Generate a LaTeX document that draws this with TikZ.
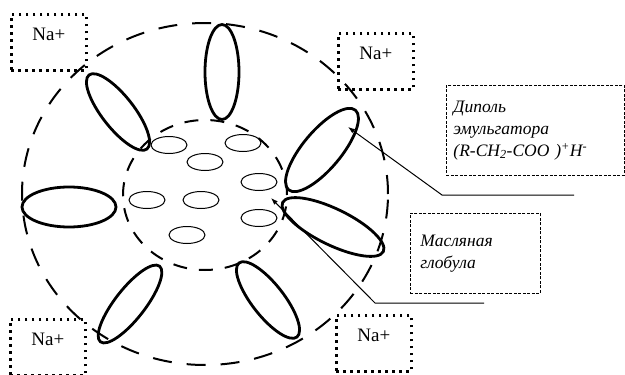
\documentclass[tikz,border=0pt]{standalone}
\usepackage{fontspec}
\setmainfont{Liberation Serif}
\usetikzlibrary{shapes.geometric,arrows.meta}

\tikzset{
  nabox/.style={draw, line width=2.6pt, dash pattern=on 2.8pt off 4.2pt, minimum width=75pt, inner ysep=0pt, text height=26pt, text depth=30pt, font=\fontsize{19}{21}\selectfont},
  ring/.style={draw, ellipse, line width=2pt, inner sep=0pt},
  dipole/.style={draw, ellipse, line width=2.8pt, inner sep=0pt},
  drop/.style={draw, ellipse, line width=1pt, minimum width=36pt, minimum height=17pt, inner sep=0pt},
  note/.style={draw, line width=0.9pt, dash pattern=on 3pt off 1.5pt, anchor=north west, align=left, font=\fontsize{17.5}{22}\selectfont\itshape},
  lead/.style={line width=1pt, -{Latex[length=7pt,width=5pt]}}
}

\begin{document}
\begin{tikzpicture}[x=1pt, y=-1pt]
\useasboundingbox (0,0) rectangle (625,375);

% micelle borders
\node[ring, dash pattern=on 19pt off 15pt, minimum width=366pt, minimum height=342pt] (outer) at (205,194) {};
\node[ring, dash pattern=on 14pt off 12pt, minimum width=164pt, minimum height=150pt] (inner) at (205,195) {};

% emulsifier dipoles
\node[dipole, minimum width=34pt, minimum height=95pt] (dip1) at (222,72) {};
\node[dipole, rotate=-52, minimum width=94pt, minimum height=32pt] (dip2) at (118,112) {};
\node[dipole, rotate=50, minimum width=104pt, minimum height=38pt] (dip3) at (322,150) {};
\node[dipole, minimum width=94pt, minimum height=40pt] (dip4) at (69,207) {};
\node[dipole, rotate=-26, minimum width=112pt, minimum height=36pt] (dip5) at (333,227) {};
\node[dipole, rotate=52, minimum width=96pt, minimum height=30pt] (dip6) at (130,304) {};
\node[dipole, rotate=-52, minimum width=94pt, minimum height=32pt] (dip7) at (268,300) {};

% oil droplets
\node[drop] (drop1) at (169,145) {};
\node[drop] (drop2) at (243,143) {};
\node[drop] (drop3) at (205,162) {};
\node[drop] (drop4) at (259,182) {};
\node[drop] (drop5) at (147,200) {};
\node[drop] (drop6) at (201,200) {};
\node[drop] (drop7) at (259,218) {};
\node[drop] (drop8) at (187,235) {};

% counter ions
\node[nabox, anchor=north west] (na1) at (10,13) {Na+};
\node[nabox, anchor=north west] (na2) at (337,32) {Na+};
\node[nabox, anchor=north west] (na3) at (9,318) {Na+};
\node[nabox, anchor=north west] (na4) at (335,314) {Na+};

% captions
\node[note, minimum width=178pt, minimum height=90pt, text width=164pt] (lbldip) at (446,85)
  {Диполь\\эмульгатора\\(R-CH\textsubscript{2}-COO )\textsuperscript{+}H\textsuperscript{-}};
\node[note, minimum width=130pt, minimum height=80pt, text width=110pt] (lbloil) at (410,213)
  {Масляная\\глобула};

\coordinate (end1) at (574,195);
\coordinate (bend1) at (442,195);
\coordinate (tip1) at (348,127);
\coordinate (end2) at (484,303);
\coordinate (bend2) at (375,303);
\coordinate (tip2) at (271,198);

\draw[lead] (end1) -- (bend1) -- (tip1);
\draw[lead] (end2) -- (bend2) -- (tip2);
\end{tikzpicture}
\end{document}
